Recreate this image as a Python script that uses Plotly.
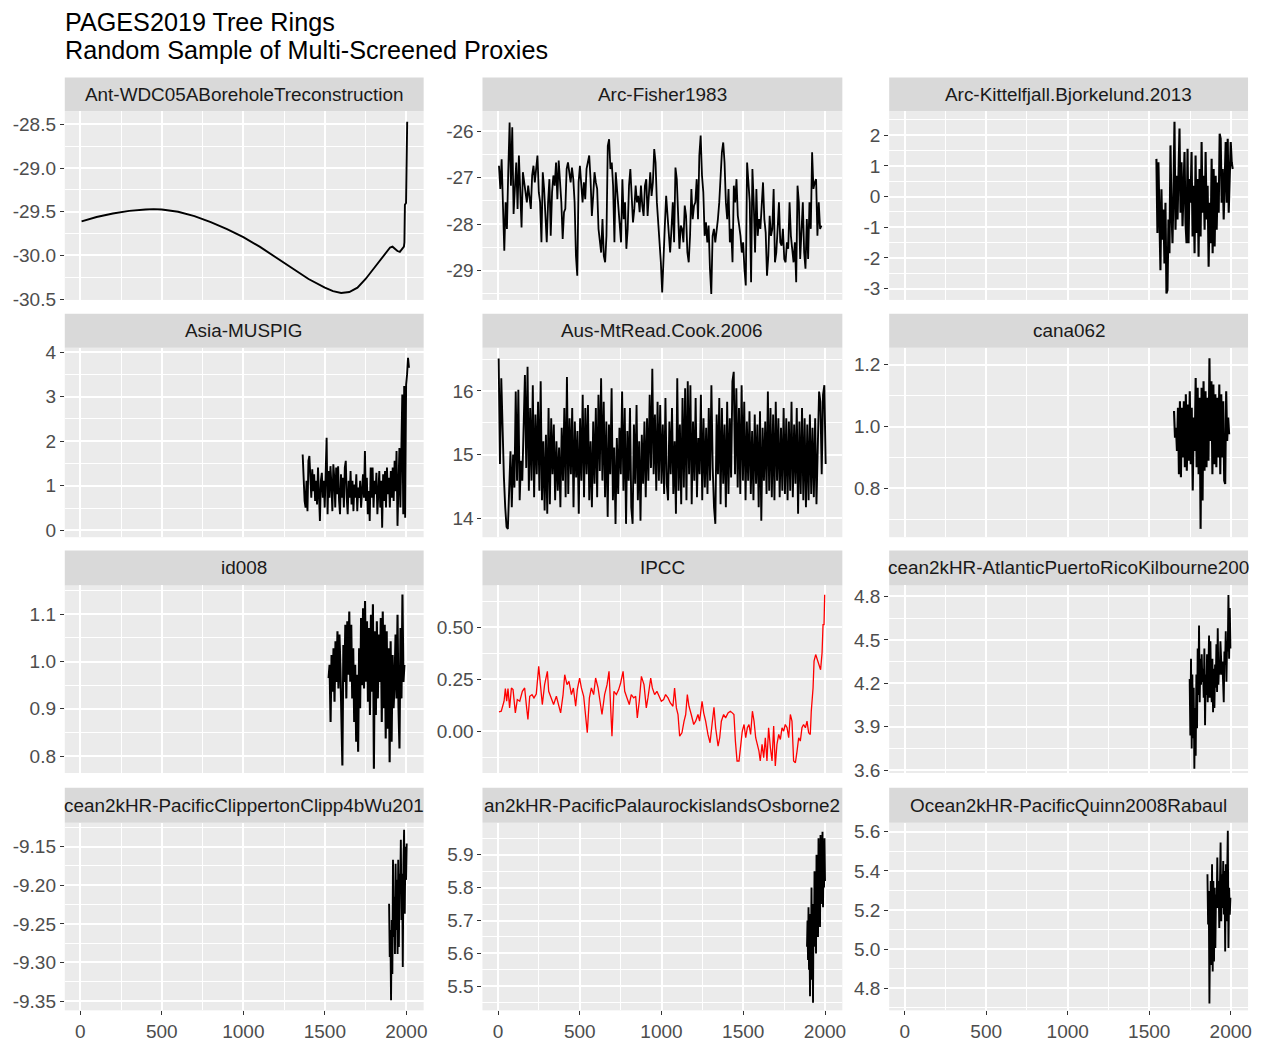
import numpy as np
import plotly.graph_objects as go

W, H = 1267, 1042

TITLE_1 = "PAGES2019 Tree Rings"
TITLE_2 = "Random Sample of Multi-Screened Proxies"

STRIP_LABELS = [
    "Ant-WDC05ABoreholeTreconstruction", "Arc-Fisher1983", "Arc-Kittelfjall.Bjorkelund.2013",
    "Asia-MUSPIG", "Aus-MtRead.Cook.2006", "cana062",
    "id008", "IPCC", "cean2kHR-AtlanticPuertoRicoKilbourne200",
    "cean2kHR-PacificClippertonClipp4bWu201", "an2kHR-PacificPalaurockislandsOsborne2",
    "Ocean2kHR-PacificQuinn2008Rabaul",
]

X_TICKS = [0, 500, 1000, 1500, 2000]

# ---------------- data ----------------
ant_years = [8, 100, 200, 300, 400, 450, 500, 600, 700, 800, 900, 1000, 1100, 1200, 1300,
             1400, 1500, 1550, 1600, 1650, 1700, 1750, 1800, 1850, 1880, 1900, 1915, 1930,
             1945, 1960, 1975, 1985, 1988, 1991, 1998, 2000, 2003, 2005]
ant_values = [-29.61, -29.56, -29.52, -29.49, -29.475, -29.47, -29.475, -29.50, -29.55, -29.62,
              -29.70, -29.79, -29.90, -30.02, -30.15, -30.27, -30.37, -30.41, -30.43, -30.42,
              -30.37, -30.27, -30.15, -30.03, -29.96, -29.91, -29.90, -29.93, -29.95, -29.96,
              -29.93, -29.90, -29.85, -29.42, -29.40, -28.90, -28.55, -28.47]

fisher_span = (6, 1978)
fisher_values = [
    -26.74, -27.24, -26.60, -27.67, -28.57, -27.53, -28.10, -26.85, -25.81, -27.17,
    -25.91, -27.78, -27.17, -26.67, -27.67, -26.52, -27.28, -28.07, -26.88, -27.10,
    -27.31, -27.53, -27.17, -27.39, -27.67, -26.95, -26.74, -27.10, -26.81, -26.52,
    -27.31, -27.53, -28.39, -26.88, -27.24, -27.89, -28.39, -27.53, -27.03, -28.25,
    -27.31, -26.95, -27.17, -26.67, -27.46, -26.63, -27.03, -27.53, -28.32, -27.74,
    -27.67, -26.81, -26.67, -26.88, -27.10, -26.78, -27.03, -27.53, -28.68, -29.11,
    -27.10, -26.74, -27.24, -27.53, -27.10, -27.46, -26.81, -26.67, -26.52, -27.03,
    -27.82, -27.39, -26.88, -27.10, -27.24, -28.10, -28.39, -28.61, -27.89, -28.68,
    -28.82, -28.25, -26.31, -26.17, -26.81, -26.67, -27.17, -28.39, -26.88, -27.31,
    -27.53, -27.96, -28.39, -27.03, -27.89, -27.53, -28.53, -28.10, -27.17, -26.81,
    -27.53, -27.96, -27.67, -27.17, -27.53, -27.39, -27.74, -27.17, -27.60, -27.82,
    -27.17, -27.03, -27.82, -27.39, -26.88, -27.39, -27.10, -26.38, -26.67, -27.53,
    -27.96, -28.25, -28.82, -29.47, -28.53, -28.03, -27.39, -27.82, -28.25, -28.61,
    -28.10, -27.53, -28.39, -26.78, -27.03, -27.89, -28.53, -28.03, -28.10, -28.39,
    -27.60, -27.82, -28.61, -28.82, -28.25, -27.24, -27.89, -27.60, -27.53, -27.03,
    -27.89, -26.52, -26.09, -26.95, -27.31, -28.25, -27.96, -28.39, -28.03, -28.96,
    -29.50, -28.25, -28.10, -28.39, -28.18, -27.89, -27.53, -26.81, -26.45, -26.24,
    -26.67, -27.53, -27.89, -27.24, -28.39, -28.10, -28.82, -27.17, -27.53, -27.03,
    -27.82, -28.03, -28.25, -28.61, -28.39, -28.96, -29.32, -26.67, -27.03, -27.53,
    -29.25, -26.81, -27.53, -28.61, -27.24, -28.25, -27.89, -28.10, -27.60, -27.10,
    -27.89, -28.18, -29.11, -28.68, -27.82, -28.25, -28.10, -27.24, -28.82, -28.61,
    -28.10, -27.53, -28.39, -28.46, -28.10, -28.75, -28.82, -28.39, -28.53, -27.53,
    -28.25, -28.61, -28.82, -28.39, -29.25, -27.17, -27.53, -28.75, -28.25, -27.53,
    -28.61, -28.96, -27.89, -28.75, -27.53, -28.10, -26.45, -27.24, -27.10, -27.03,
    -28.25, -27.53, -28.10, -28.03,
]

kittel_span = (1544, 2012)
kittel_values = [
    1.23, -1.19, 1.12, -0.42, -2.40, 0.24, -1.41, -0.42, -2.18, -0.20,
    -3.16, -3.05, -0.75, -1.85, 1.67, -0.42, -1.52, 0.13, 2.44, -1.08,
    0.68, -0.75, 1.45, 2.22, -0.53, 1.12, -0.97, 0.68, 1.45, -0.86,
    -1.52, 1.56, -1.52, 0.57, -0.20, 1.45, -1.30, 0.35, -1.85, 1.34,
    -1.19, 0.57, -1.96, 0.90, -1.30, 1.78, -0.53, 0.68, -1.08, 1.45,
    -0.75, 0.35, -2.29, -0.20, -1.52, 1.23, -1.85, 0.90, -1.63, 0.68,
    -1.08, 0.46, -0.53, 2.05, 1.89, -0.20, 0.90, -0.75, 0.35, 1.78,
    -0.20, 1.89, -0.53, 1.12, 1.78, 1.12, 0.90,
]

asia_span = (1364, 2016)
asia_values = [
    1.70, 0.96, 0.66, 0.51, 1.11, 0.43, 1.56, 1.67, 1.26, 0.73,
    1.37, 0.88, 1.26, 0.66, 1.11, 0.58, 1.41, 0.88, 0.21, 1.11,
    1.29, 0.73, 1.11, 0.51, 1.26, 2.08, 0.36, 1.33, 0.73, 1.44,
    1.03, 0.43, 1.48, 1.18, 0.51, 1.41, 0.81, 1.44, 0.66, 0.36,
    1.26, 0.73, 1.18, 0.51, 1.41, 1.56, 0.73, 0.36, 1.11, 0.73,
    1.33, 0.58, 1.11, 0.43, 1.03, 0.73, 1.26, 0.43, 0.96, 0.73,
    1.11, 0.51, 0.88, 1.26, 0.73, 1.78, 0.66, 1.18, 0.36, 0.88,
    0.21, 1.41, 0.73, 1.41, 0.51, 1.11, 0.81, 1.29, 0.36, 0.73,
    1.33, 0.51, 1.11, 0.06, 1.26, 0.66, 1.33, 0.51, 1.41, 0.81,
    1.18, 0.51, 1.33, 0.73, 1.41, 0.66, 1.56, 0.88, 1.78, 0.10,
    1.26, 1.85, 0.51, 1.63, 3.05, 0.36, 3.24, 0.28, 3.27, 3.50,
    3.87, 3.65,
]

mtread_span = (4, 2004)
mtread_values = [
    16.51, 14.85, 16.20, 15.26, 14.64, 14.17, 13.86, 13.83, 14.43, 15.05,
    14.17, 15.00, 14.48, 15.99, 14.59, 16.02, 14.28, 14.90, 14.59, 15.52,
    16.25, 14.79, 16.38, 14.43, 15.73, 14.59, 16.09, 14.33, 15.63, 14.69,
    15.83, 14.43, 16.15, 14.28, 15.21, 14.12, 15.31, 14.07, 15.73, 14.22,
    15.57, 14.69, 15.47, 14.28, 15.21, 14.43, 15.11, 14.17, 15.42, 14.59,
    15.73, 14.33, 16.22, 14.38, 15.57, 14.69, 15.73, 14.17, 15.52, 14.64,
    15.37, 14.07, 15.57, 14.59, 15.94, 14.33, 15.73, 14.69, 15.78, 14.28,
    15.21, 14.17, 15.52, 14.54, 15.73, 14.33, 15.94, 14.74, 16.20, 14.59,
    15.83, 14.33, 15.52, 14.02, 15.47, 14.69, 16.04, 14.28, 15.11, 13.91,
    15.26, 14.38, 15.42, 14.69, 15.99, 14.43, 15.73, 13.91, 15.37, 14.59,
    15.73, 14.17, 13.91, 15.47, 14.54, 15.78, 14.28, 15.21, 13.96, 15.31,
    14.54, 15.52, 14.33, 15.57, 14.59, 15.94, 14.79, 16.35, 14.69, 15.63,
    14.43, 15.83, 14.59, 15.78, 14.54, 15.47, 14.38, 15.89, 14.54, 14.28,
    15.52, 14.69, 15.73, 14.38, 15.21, 14.07, 16.20, 14.43, 15.47, 14.22,
    15.89, 14.48, 16.04, 14.28, 16.15, 14.69, 16.09, 14.22, 15.52, 14.59,
    15.89, 14.33, 15.26, 14.69, 15.94, 14.28, 15.57, 14.48, 15.42, 14.38,
    15.73, 14.59, 16.09, 14.79, 14.17, 13.91, 15.63, 14.69, 15.89, 14.22,
    15.73, 14.54, 15.47, 14.17, 15.83, 14.38, 15.57, 14.64, 16.15, 16.30,
    14.69, 16.04, 14.48, 15.73, 14.38, 16.09, 14.59, 15.83, 14.28, 15.52,
    14.59, 15.68, 14.38, 15.37, 14.28, 15.63, 14.54, 15.47, 14.17, 15.68,
    13.96, 15.42, 14.59, 15.52, 14.38, 15.99, 14.43, 15.73, 14.33, 15.63,
    14.28, 15.83, 14.59, 15.57, 14.33, 15.42, 14.43, 15.73, 14.38, 15.57,
    14.28, 15.52, 14.43, 15.83, 14.33, 15.47, 14.54, 15.73, 14.07, 15.52,
    14.38, 15.73, 14.28, 15.57, 14.17, 15.47, 14.28, 15.63, 14.38, 15.42,
    14.33, 15.57, 14.22, 15.11, 15.99, 15.83, 14.69, 15.94, 16.09, 14.85,
]

cana_span = (1652, 1990)
cana_values = [
    1.050, 0.964, 0.996, 0.921, 1.061, 0.846, 1.082, 0.836, 1.061, 0.900,
    1.082, 0.868, 1.104, 0.857, 1.071, 0.889, 1.114, 0.878, 1.061, 0.793,
    1.029, 0.921, 1.157, 0.868, 1.125, 0.846, 1.093, 0.669, 1.125, 0.761,
    1.146, 0.857, 1.114, 0.868, 1.093, 0.889, 1.221, 0.953, 1.146, 0.846,
    1.136, 0.878, 1.104, 0.868, 1.093, 0.900, 1.136, 0.846, 1.104, 0.900,
    1.082, 0.825, 0.814, 1.114, 0.953, 1.029, 0.975,
]

id008_span = (1523, 1988)
id008_values = [
    0.965, 0.993, 0.872, 1.014, 0.936, 1.028, 0.915, 1.043, 0.957, 1.064,
    0.943, 1.057, 0.986, 0.887, 0.780, 1.035, 0.957, 1.078, 0.922, 1.085,
    0.972, 1.106, 0.957, 1.078, 0.922, 1.028, 0.872, 0.993, 0.830, 0.972,
    0.809, 1.028, 0.901, 1.092, 0.950, 1.113, 0.943, 1.128, 0.957, 1.085,
    0.915, 1.071, 0.887, 1.099, 0.936, 1.121, 0.773, 1.064, 0.887, 1.085,
    0.922, 1.057, 0.957, 1.092, 0.872, 1.106, 0.901, 1.078, 0.837, 1.064,
    0.858, 1.028, 0.787, 1.043, 0.830, 1.014, 0.901, 0.957, 1.057, 0.922,
    1.099, 0.901, 0.816, 1.071, 0.922, 1.142, 0.957, 0.993,
]

ipcc_years = [
    6, 20, 37, 45, 53, 61, 71, 82, 92, 106,
    118, 133, 149, 163, 173, 183, 194, 208, 220, 234,
    249, 261, 271, 285, 302, 310, 326, 340, 357, 371,
    383, 398, 408, 422, 434, 449, 461, 475, 485, 499,
    510, 524, 536, 546, 559, 571, 585, 597, 612, 624,
    636, 652, 667, 679, 689, 697, 709, 724, 738, 750,
    765, 775, 789, 803, 815, 830, 842, 852, 864, 877,
    893, 907, 917, 934, 944, 958, 972, 985, 999, 1013,
    1025, 1040, 1054, 1070, 1080, 1091, 1101, 1111, 1125, 1138,
    1148, 1158, 1168, 1182, 1197, 1209, 1223, 1233, 1248, 1258,
    1270, 1284, 1297, 1309, 1321, 1331, 1346, 1356, 1366, 1380,
    1392, 1407, 1421, 1433, 1443, 1452, 1462, 1474, 1484, 1494,
    1505, 1515, 1525, 1535, 1545, 1556, 1566, 1576, 1586, 1596,
    1604, 1615, 1625, 1635, 1645, 1655, 1666, 1676, 1686, 1696,
    1706, 1717, 1727, 1737, 1747, 1757, 1768, 1778, 1788, 1798,
    1808, 1819, 1829, 1839, 1849, 1859, 1869, 1880, 1890, 1900,
    1910, 1916, 1927, 1933, 1943, 1953, 1963, 1973, 1982, 1988,
    1994, 1998,
]
ipcc_values = [
    0.093, 0.096, 0.144, 0.205, 0.144, 0.205, 0.112, 0.208, 0.200, 0.088,
    0.152, 0.144, 0.192, 0.208, 0.128, 0.056, 0.168, 0.176, 0.160, 0.179,
    0.312, 0.224, 0.128, 0.224, 0.288, 0.192, 0.160, 0.128, 0.168, 0.128,
    0.088, 0.176, 0.272, 0.224, 0.240, 0.176, 0.208, 0.120, 0.200, 0.256,
    0.208, 0.168, 0.048, -0.008, 0.160, 0.208, 0.176, 0.256, 0.208, 0.144,
    0.080, 0.176, 0.224, 0.288, 0.096, -0.024, 0.192, 0.176, 0.200, 0.232,
    0.288, 0.192, 0.160, 0.128, 0.176, 0.160, 0.168, 0.064, 0.144, 0.264,
    0.224, 0.112, 0.160, 0.256, 0.208, 0.176, 0.192, 0.168, 0.144, 0.152,
    0.176, 0.160, 0.136, 0.120, 0.208, 0.112, 0.080, -0.024, -0.008, 0.048,
    0.080, 0.176, 0.120, 0.080, 0.032, 0.048, 0.080, 0.048, 0.144, 0.088,
    0.048, -0.016, -0.056, 0.032, 0.115, 0.016, -0.072, -0.032, 0.048, 0.080,
    0.064, 0.088, 0.096, 0.088, 0.080, -0.048, -0.144, -0.144, -0.080, 0.000,
    0.032, -0.032, 0.016, 0.032, -0.016, 0.096, 0.048, -0.032, -0.064, -0.096,
    -0.144, -0.064, -0.128, -0.032, -0.144, 0.016, -0.080, -0.144, 0.024, -0.168,
    -0.064, -0.016, -0.040, 0.016, 0.000, 0.032, 0.016, -0.032, 0.080, 0.048,
    -0.144, -0.152, -0.096, -0.032, -0.048, 0.016, 0.032, 0.016, 0.048, -0.008,
    -0.016, 0.096, 0.208, 0.337, 0.369, 0.345, 0.321, 0.296, 0.377, 0.513,
    0.513, 0.657,
]

prico_span = (1748, 1998)
prico_values = [
    4.23, 3.84, 4.37, 3.75, 4.26, 3.82, 4.17, 3.61, 4.03, 3.70,
    4.26, 3.89, 4.44, 4.12, 4.60, 4.07, 4.37, 4.19, 4.40, 4.21,
    4.30, 4.10, 4.44, 3.91, 4.26, 4.12, 4.40, 4.07, 4.28, 4.53,
    4.10, 4.49, 4.19, 4.07, 4.37, 4.00, 4.30, 4.03, 4.33, 4.17,
    4.47, 4.14, 4.58, 4.19, 4.35, 4.26, 4.49, 4.37, 4.26, 4.35,
    4.19, 4.07, 4.42, 4.33, 4.56, 4.21, 4.49, 4.42, 4.81, 4.37,
    4.72, 4.44,
]

clip_span = (1894, 2002)
clip_values = [
    -9.224, -9.293, -9.258, -9.349, -9.245, -9.315, -9.167, -9.267, -9.215, -9.289,
    -9.172, -9.258, -9.193, -9.289, -9.167, -9.280, -9.185, -9.211, -9.141, -9.245,
    -9.185, -9.306, -9.172, -9.128, -9.237, -9.150, -9.193, -9.146,
]

palau_span = (1890, 2000)
palau_values = [
    5.62, 5.70, 5.58, 5.74, 5.55, 5.66, 5.47, 5.72, 5.60, 5.80,
    5.52, 5.68, 5.45, 5.75, 5.62, 5.85, 5.66, 5.78, 5.60, 5.90,
    5.70, 5.82, 5.65, 5.95, 5.72, 5.88, 5.68, 5.96, 5.75, 5.92,
    5.78, 5.97, 5.74, 5.90, 5.80, 5.95, 5.82,
]

rabaul_span = (1857, 1998)
rabaul_values = [
    5.383, 5.126, 5.297, 4.723, 5.091, 5.348, 4.920, 5.434, 4.886, 5.348,
    4.937, 5.314, 5.006, 5.280, 5.211, 5.468, 5.211, 5.348, 5.109, 5.417,
    5.545, 5.143, 5.383, 5.211, 5.451, 5.177, 5.400, 4.989, 5.434, 5.143,
    5.348, 5.605, 5.006, 5.314, 5.177, 5.263,
]

# y-axis ticks per panel
Y_TICKS = [
    [-30.5, -30.0, -29.5, -29.0, -28.5],
    [-29, -28, -27, -26],
    [-3, -2, -1, 0, 1, 2],
    [0, 1, 2, 3, 4],
    [14, 15, 16],
    [0.8, 1.0, 1.2],
    [0.8, 0.9, 1.0, 1.1],
    [0.0, 0.25, 0.5],
    [3.6, 3.9, 4.2, 4.5, 4.8],
    [-9.35, -9.30, -9.25, -9.20, -9.15],
    [5.5, 5.6, 5.7, 5.8, 5.9],
    [4.8, 5.0, 5.2, 5.4, 5.6],
]
Y_TICKTEXT = [
    ["-30.5", "-30.0", "-29.5", "-29.0", "-28.5"],
    ["-29", "-28", "-27", "-26"],
    ["-3", "-2", "-1", "0", "1", "2"],
    ["0", "1", "2", "3", "4"],
    ["14", "15", "16"],
    ["0.8", "1.0", "1.2"],
    ["0.8", "0.9", "1.0", "1.1"],
    ["0.00", "0.25", "0.50"],
    ["3.6", "3.9", "4.2", "4.5", "4.8"],
    ["-9.35", "-9.30", "-9.25", "-9.20", "-9.15"],
    ["5.5", "5.6", "5.7", "5.8", "5.9"],
    ["4.8", "5.0", "5.2", "5.4", "5.6"],
]
Y_MINOR = [
    [-30.25, -29.75, -29.25, -28.75],
    [-29.5, -28.5, -27.5, -26.5],
    [-2.5, -1.5, -0.5, 0.5, 1.5, 2.5],
    [0.5, 1.5, 2.5, 3.5],
    [14.5, 15.5, 16.5],
    [0.7, 0.9, 1.1],
    [0.85, 0.95, 1.05, 1.15],
    [-0.125, 0.125, 0.375, 0.625],
    [3.75, 4.05, 4.35, 4.65],
    [-9.325, -9.275, -9.225, -9.175, -9.125],
    [5.45, 5.55, 5.65, 5.75, 5.85, 5.95],
    [4.7, 4.9, 5.1, 5.3, 5.5],
]
Y_RANGES = [
    [-30.51, -28.35], [-29.63, -25.57], [-3.37, 2.78],
    [-0.155, 4.10], [13.70, 16.68], [0.642, 1.255],
    [0.764, 1.161], [-0.202, 0.702], [3.58, 4.876],
    [-9.362, -9.119], [5.427, 5.997], [4.688, 5.646],
]


def span_years(span, vals):
    return np.linspace(span[0], span[1], len(vals))


SERIES = [
    (ant_years, ant_values, "black", 1.9),
    (span_years(fisher_span, fisher_values), fisher_values, "black", 1.8),
    (span_years(kittel_span, kittel_values), kittel_values, "black", 2.1),
    (span_years(asia_span, asia_values), asia_values, "black", 1.9),
    (span_years(mtread_span, mtread_values), mtread_values, "black", 1.9),
    (span_years(cana_span, cana_values), cana_values, "black", 2.1),
    (span_years(id008_span, id008_values), id008_values, "black", 2.1),
    (ipcc_years, ipcc_values, "red", 1.3),
    (span_years(prico_span, prico_values), prico_values, "black", 1.9),
    (span_years(clip_span, clip_values), clip_values, "black", 1.9),
    (span_years(palau_span, palau_values), palau_values, "black", 1.9),
    (span_years(rabaul_span, rabaul_values), rabaul_values, "black", 1.9),
]

# ---------------- layout geometry (pixels) ----------------
COL_X = [(65, 425), (484, 845), (892, 1252)]
ROW_Y = [(107, 298.5), (347, 539.5), (588.5, 779), (829.5, 1020)]
STRIP_Y = [(72.5, 107), (312.5, 347), (553, 588.5), (794, 829.5)]

FONT = "Liberation Sans, Arial, sans-serif"
TICK_FONT = dict(family=FONT, size=19, color="#4D4D4D")

fig = go.Figure()
layout = dict(
    width=W, height=H,
    margin=dict(l=0, r=0, t=0, b=0),
    paper_bgcolor="white",
    plot_bgcolor="#EBEBEB",
    showlegend=False,
    font=dict(family=FONT),
)
shapes = []
annotations = []

for i, (xs, ys, color, lw) in enumerate(SERIES):
    r, c = divmod(i, 3)
    sfx = "" if i == 0 else str(i + 1)
    fig.add_trace(go.Scatter(
        x=list(xs), y=ys, mode="lines",
        line=dict(color=color, width=lw),
        xaxis="x" + sfx, yaxis="y" + sfx, hoverinfo="skip",
    ))
    x0, x1 = COL_X[c]
    y0, y1 = ROW_Y[r]
    bottom = (r == 3)
    layout["xaxis" + sfx] = dict(
        domain=[x0 / W, x1 / W], anchor="y" + sfx,
        range=[-95, 2106], tickmode="array", tickvals=X_TICKS,
        ticktext=[str(v) for v in X_TICKS],
        showticklabels=bottom, ticks="outside" if bottom else "",
        ticklen=4, tickwidth=1, tickcolor="#333333", tickfont=TICK_FONT,
        showgrid=True, gridcolor="white", gridwidth=1.8,
        minor=dict(tickmode="array", tickvals=[250, 750, 1250, 1750],
                   showgrid=True, gridcolor="white", gridwidth=0.9, ticks=""),
        zeroline=False, showline=False, fixedrange=True,
    )
    layout["yaxis" + sfx] = dict(
        domain=[1 - y1 / H, 1 - y0 / H], anchor="x" + sfx,
        range=Y_RANGES[i], tickmode="array", tickvals=Y_TICKS[i], ticktext=Y_TICKTEXT[i],
        ticks="outside", ticklen=4, tickwidth=1, tickcolor="#333333", tickfont=TICK_FONT,
        showgrid=True, gridcolor="white", gridwidth=1.8,
        minor=dict(tickmode="array", tickvals=Y_MINOR[i],
                   showgrid=True, gridcolor="white", gridwidth=0.9, ticks=""),
        zeroline=False, showline=False, fixedrange=True,
    )
    sy0, sy1 = STRIP_Y[r]
    shapes.append(dict(type="rect", xref="paper", yref="paper",
                       x0=x0 / W, x1=x1 / W, y0=1 - sy1 / H, y1=1 - sy0 / H,
                       fillcolor="#D9D9D9", line=dict(width=0), layer="below"))
    annotations.append(dict(
        text=STRIP_LABELS[i], xref="paper", yref="paper",
        x=(x0 + x1) / 2 / W, y=1 - (sy0 + sy1) / 2 / H,
        xanchor="center", yanchor="middle", showarrow=False,
        font=dict(family=FONT, size=18.9, color="#1A1A1A"),
    ))

annotations.append(dict(text=TITLE_1, xref="paper", yref="paper", x=63 / W, y=1 - 16.5 / H,
                        xanchor="left", yanchor="middle", showarrow=False,
                        font=dict(family=FONT, size=25.2, color="black")))
annotations.append(dict(text=TITLE_2, xref="paper", yref="paper", x=63 / W, y=1 - 45 / H,
                        xanchor="left", yanchor="middle", showarrow=False,
                        font=dict(family=FONT, size=25.2, color="black")))

layout["shapes"] = shapes
layout["annotations"] = annotations
fig.update_layout(**layout)
fig.write_html("out.html")
